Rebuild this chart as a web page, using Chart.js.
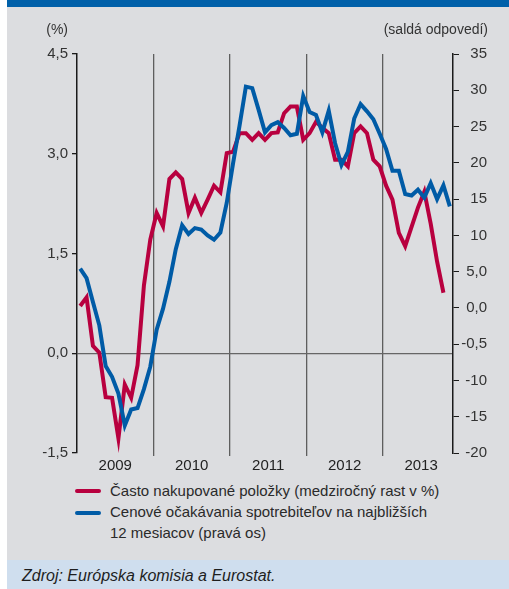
<!DOCTYPE html>
<html>
<head>
<meta charset="utf-8">
<script src="https://cdn.jsdelivr.net/npm/chart.js@4.4.0/dist/chart.umd.min.js"></script>
<style>
body { margin: 0; background: #fff; width: 509px; height: 589px; position: relative; overflow: hidden; font-family: "Liberation Sans", Arial, sans-serif; color: #2a2a2a; }
#topbar { position: absolute; left: 7px; top: 0; width: 502px; height: 7px; background: #0060a9; }
#panel { position: absolute; left: 7px; top: 7px; width: 502px; height: 553px; background: #dcdde0; }
#source { position: absolute; left: 7px; top: 560px; width: 502px; height: 29px; background: #cfdeee; }
#source span { position: absolute; left: 15px; top: 7px; font-style: italic; font-size: 16px; line-height: 18px; color: #1e1e1e; }
#graphCanvas { position: absolute; left: 0; top: 0; }
.key { position: absolute; left: 75px; width: 26px; height: 4px; border-radius: 2px; }
.txt { position: absolute; left: 110px; font-size: 15px; line-height: 18px; white-space: nowrap; }
</style>
</head>
<body>
<div id="topbar"></div>
<div id="panel"></div>
<canvas id="graphCanvas" width="509" height="480"></canvas>
<div class="key" style="top:489px;background:#b8003f"></div>
<div class="txt" style="top:482px">Často nakupované položky (medziročný rast v %)</div>
<div class="key" style="top:511px;background:#005ba6"></div>
<div class="txt" style="top:503px">Cenové očakávania spotrebiteľov na najbližších</div>
<div class="txt" style="top:524px">12 mesiacov (pravá os)</div>
<div id="source"><span>Zdroj: Európska komisia a Eurostat.</span></div>

<script>
// mesiace jan 2009 - nov 2013
var years = ['2009', '2010', '2011', '2012', '2013'];
var months = [];
for (var y = 0; y < years.length; y++) {
    for (var m = 1; m <= 12; m++) {
        if (years[y] === '2013' && m > 11) break;
        months.push(years[y] + '-' + (m < 10 ? '0' + m : m));
    }
}

// casto nakupovane polozky, medzirocne v %
var castoNakupovane = [0.71, 0.84, 0.11, 0.01, -0.66, -0.67, -1.28, -0.47, -0.67, -0.18,
    1.02, 1.71, 2.11, 1.91, 2.62, 2.72, 2.62, 2.11, 2.34, 2.11,
    2.31, 2.52, 2.42, 3.01, 3.03, 3.31, 3.31, 3.21, 3.31, 3.21,
    3.31, 3.32, 3.61, 3.71, 3.71, 3.21, 3.31, 3.48, 3.39, 3.31,
    2.91, 2.91, 2.81, 3.31, 3.41, 3.31, 2.91, 2.81, 2.52, 2.31,
    1.81, 1.61, 1.90, 2.19, 2.43, 1.95, 1.38, 0.91];

// cenove ocakavania spotrebitelov (saldo), prava os
var ocakavania = [5.4, 4.1, 0.8, -2.4, -8.0, -9.5, -11.8, -16.2, -14.0, -13.8,
    -11.2, -8.1, -3.0, -0.1, 3.6, 8.1, 11.4, 10.2, 11.0, 10.8,
    10.0, 9.4, 10.4, 14.5, 20.0, 25.1, 30.5, 30.3, 27.3, 24.2,
    25.2, 25.6, 24.8, 23.8, 24.0, 29.2, 27.0, 26.6, 24.2, 27.2,
    22.7, 19.7, 21.5, 26.1, 28.1, 27.1, 26.0, 24.0, 21.9, 18.9,
    18.9, 15.7, 15.5, 16.3, 15.2, 17.2, 15.0, 16.9, 14.0];

var leftTicks = ['-1,5', '0,0', '1,5', '3,0', '4,5'];
var rightTicks = ['-20', '-15', '-10', '-0,5', '0,0', '5,0', '10', '15', '20', '25', '30', '35'];

var axisTitles = {
    id: 'axisTitles',
    afterDraw: function (chart) {
        var ctx = chart.ctx;
        ctx.save();
        ctx.font = '14px "Liberation Sans"';
        ctx.fillStyle = '#333';
        ctx.textAlign = 'right';
        ctx.textBaseline = 'middle';
        ctx.fillText('(%)', 68, 30);
        ctx.fillText('(saldá odpovedí)', 488, 30);
        ctx.restore();
    }
};

Chart.defaults.font.family = '"Liberation Sans", Arial, sans-serif';
Chart.defaults.color = '#333';

var graph = new Chart(document.getElementById('graphCanvas'), {
    type: 'line',
    data: {
        labels: months,
        datasets: [
            {
                label: 'Cenové očakávania spotrebiteľov na najbližších 12 mesiacov (pravá os)',
                data: ocakavania,
                yAxisID: 'y1',
                borderColor: '#005ba6',
                borderWidth: 4,
                pointRadius: 0,
                tension: 0,
                order: 0
            },
            {
                label: 'Často nakupované položky (medziročný rast v %)',
                data: castoNakupovane,
                yAxisID: 'y',
                borderColor: '#b8003f',
                borderWidth: 4,
                pointRadius: 0,
                tension: 0,
                order: 1
            }
        ]
    },
    options: {
        responsive: false,
        animation: false,
        devicePixelRatio: 1,
        layout: { padding: { top: 54, left: 0, right: 22, bottom: 0 } },
        plugins: { legend: { display: false }, tooltip: { enabled: false } },
        scales: {
            x: {
                type: 'category',
                offset: true,
                afterFit: function (s) { s.height = 27; },
                border: { display: false },
                grid: {
                    offset: true,
                    drawOnChartArea: true,
                    tickLength: 3,
                    lineWidth: 1.3,
                    color: function (c) { return (c.index % 12 === 0 && c.index > 0 && c.index < 59) ? '#5e5e5e' : 'rgba(0,0,0,0)'; },
                    tickColor: function (c) { return (c.index % 12 === 0 && c.index > 0 && c.index < 59) ? '#5e5e5e' : 'rgba(0,0,0,0)'; }
                },
                ticks: {
                    autoSkip: false,
                    maxRotation: 0,
                    padding: 1,
                    labelOffset: -3.2,
                    font: { size: 15 },
                    color: '#222',
                    callback: function (v, i) {
                        return months[i].slice(5) === '07' ? months[i].slice(0, 4) : '';
                    }
                }
            },
            y: {
                position: 'left',
                min: -1.5,
                max: 4.5,
                afterFit: function (s) { s.width = 77; },
                border: { color: '#1a1a1a', width: 1.5 },
                grid: {
                    drawOnChartArea: true,
                    tickLength: 5,
                    lineWidth: 1.3,
                    color: function (c) { return (c.tick && Math.abs(c.tick.value) < 1e-9) ? '#666' : 'rgba(0,0,0,0)'; },
                    tickColor: '#1a1a1a'
                },
                ticks: {
                    stepSize: 1.5,
                    padding: 4,
                    font: { size: 15 },
                    callback: function (v, i) { return leftTicks[i]; }
                }
            },
            y1: {
                position: 'right',
                min: -20,
                max: 35,
                afterFit: function (s) { s.width = 34; },
                border: { color: '#1a1a1a', width: 1.5 },
                grid: {
                    drawOnChartArea: false,
                    tickLength: 6,
                    tickColor: '#1a1a1a'
                },
                ticks: {
                    stepSize: 5,
                    padding: 2,
                    crossAlign: 'far',
                    font: { size: 15 },
                    callback: function (v, i) { return rightTicks[i]; }
                }
            }
        }
    },
    plugins: [axisTitles]
});
</script>
</body>
</html>
